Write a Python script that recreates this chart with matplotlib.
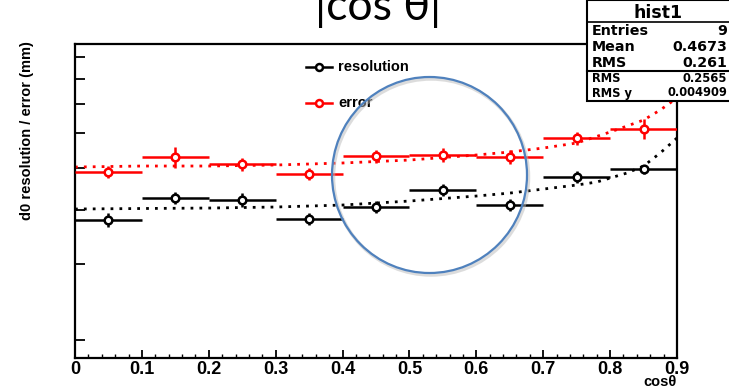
import matplotlib
matplotlib.use("Agg")
import matplotlib.pyplot as plt
from matplotlib.patches import Ellipse, Rectangle
from matplotlib.lines import Line2D

# ---- data ----
bin_centers = [0.05, 0.15, 0.25, 0.35, 0.45, 0.55, 0.65, 0.75, 0.85]
bin_half_width = 0.05
resolution = [0.003786, 0.004257, 0.004211, 0.003806, 0.004057, 0.004442, 0.004100, 0.004758, 0.004966]
resolution_err = [0.000140, 0.000136, 0.000150, 0.000121, 0.000129, 0.000142, 0.000131, 0.000152, 0.000119]
error = [0.004887, 0.005293, 0.005100, 0.004835, 0.005320, 0.005349, 0.005293, 0.005856, 0.006142]
error_err = [0.000156, 0.000295, 0.000176, 0.000154, 0.000184, 0.000190, 0.000188, 0.000202, 0.000327]

fit_err_x = [0.0, 0.1, 0.2, 0.3, 0.4, 0.5, 0.6, 0.65, 0.7, 0.75, 0.8, 0.825, 0.85, 0.875, 0.9]
fit_err_y = [0.005018, 0.005045, 0.005045, 0.005072, 0.005127, 0.005208, 0.005349, 0.005435,
             0.005551, 0.005702, 0.006044, 0.006239, 0.006442, 0.006796, 0.007244]
fit_res_x = [0.0, 0.1, 0.2, 0.3, 0.4, 0.5, 0.6, 0.65, 0.7, 0.75, 0.78, 0.8, 0.825, 0.85, 0.875, 0.9]
fit_res_y = [0.004014, 0.004025, 0.004035, 0.004057, 0.004100, 0.004188, 0.004301, 0.004369,
             0.004463, 0.004560, 0.004633, 0.004733, 0.004860, 0.005045, 0.005408, 0.005856]

x_ticks = [0, 0.1, 0.2, 0.3, 0.4, 0.5, 0.6, 0.7, 0.8, 0.9]
x_tick_labels = ["0", "0.1", "0.2", "0.3", "0.4", "0.5", "0.6", "0.7", "0.8", "0.9"]
y_ticks = [0.002, 0.003, 0.004, 0.005, 0.006, 0.007, 0.008, 0.009]

stats_rows = [("Entries", "9"), ("Mean", "0.4673"), ("RMS", "0.261")]
stats_rows2 = [("RMS", "0.2565"), ("RMS y", "0.004909")]

W, H = 729, 389
fig = plt.figure(figsize=(W / 100, H / 100), dpi=100)
fig.patch.set_facecolor("white")

def fx(px):
    return px / W

def fy(py):
    return (H - py) / H

ax = fig.add_axes([fx(75), fy(358), (677 - 75) / W, (358 - 44) / H])
ax.set_xlim(0, 0.9)
ax.set_yscale("log")
ax.set_ylim(0.001818, 0.009652)

# fits
ax.plot(fit_res_x, fit_res_y, color="black", lw=2.0, linestyle=(0, (1.0, 2.2)), zorder=2)
ax.plot(fit_err_x, fit_err_y, color="red", lw=2.0, linestyle=(0, (1.0, 2.2)), zorder=2)

# data
for vals, errs, col in [(resolution, resolution_err, "black"), (error, error_err, "red")]:
    ax.errorbar(bin_centers, vals, xerr=bin_half_width, yerr=errs, fmt="o", color=col,
                mfc="white", mec=col, mew=1.8, ms=5.5, elinewidth=1.8, capsize=0, zorder=3)

# axes styling
for side in ["left", "bottom", "top", "right"]:
    ax.spines[side].set_linewidth(1.6)
ax.set_xticks(x_ticks)
ax.set_xticklabels(x_tick_labels, fontfamily="Liberation Sans", fontweight="bold", fontsize=13)
ax.set_xticks([i * 0.02 for i in range(46)], minor=True)
ax.tick_params(axis="x", which="major", direction="in", length=6, width=1.3, pad=2)
ax.tick_params(axis="x", which="minor", direction="in", length=3, width=1.0)
ax.set_yticks(y_ticks)
ax.set_yticklabels([])
ax.yaxis.set_minor_locator(matplotlib.ticker.NullLocator())
ax.tick_params(axis="y", which="major", direction="in", length=7, width=1.3)

fig.text(fx(677), fy(382.5), "cos\u03b8", ha="right", va="center",
         fontfamily="Liberation Sans", fontweight="bold", fontsize=10.5)
fig.text(fx(27), fy(131), "d0 resolution / error (mm)", rotation=90, ha="center", va="center",
         fontfamily="Liberation Sans", fontweight="bold", fontsize=10.5)

# legend (manual, ROOT style)
for py, col, lab in [(67, "black", "resolution"), (103, "red", "error")]:
    fig.add_artist(Line2D([fx(306), fx(332)], [fy(py), fy(py)], color=col, lw=1.8))
    fig.add_artist(Line2D([fx(319)], [fy(py)], marker="o", ms=5, mfc="white", mec=col, mew=1.8))
    fig.text(fx(338), fy(py), lab, ha="left", va="center", fontfamily="Liberation Sans",
             fontweight="bold", fontsize=10.5)

# title
fig.text(fx(378), fy(20), "|cos \u03b8|", ha="center", va="baseline",
         fontfamily="Lato", fontsize=32)

# stats box
fig.add_artist(Rectangle((fx(587), fy(101)), fx(729 - 587) + 0.01, fy(4) - fy(101) + 0.01,
                         facecolor="white", edgecolor="black", lw=1.5, zorder=10))
fig.add_artist(Line2D([fx(587), fx(729)], [fy(22), fy(22)], color="black", lw=1.2, zorder=11))
fig.add_artist(Line2D([fx(587), fx(729)], [fy(71), fy(71)], color="black", lw=1.5, zorder=11))
fig.text(fx(658), fy(13), "hist1", ha="center", va="center", fontfamily="DejaVu Sans",
         fontweight="bold", fontsize=12.5, zorder=12)
for i, (k, v) in enumerate(stats_rows):
    yy = 31 + i * 16
    fig.text(fx(592), fy(yy), k, ha="left", va="center", fontfamily="DejaVu Sans",
             fontweight="bold", fontsize=10.3, zorder=12)
    fig.text(fx(727), fy(yy), v, ha="right", va="center", fontfamily="DejaVu Sans",
             fontweight="bold", fontsize=10.3, zorder=12)
for i, (k, v) in enumerate(stats_rows2):
    yy = 78 + i * 15
    fig.text(fx(592), fy(yy), k, ha="left", va="center", fontfamily="DejaVu Sans",
             fontweight="bold", fontsize=8.3, zorder=12)
    fig.text(fx(727), fy(yy), v, ha="right", va="center", fontfamily="DejaVu Sans",
             fontweight="bold", fontsize=8.3, zorder=12)

# highlight ellipse
fig.add_artist(Ellipse((fx(431), fy(177)), 195 / W, 196 / H, facecolor="none",
                       edgecolor="#bbbbbb", lw=2.5, alpha=0.5, zorder=8))
fig.add_artist(Ellipse((fx(429.5), fy(175)), 195 / W, 196 / H, facecolor="none",
                       edgecolor="#4f81bd", lw=1.6, zorder=9))

fig.savefig("out.png", dpi=100)
